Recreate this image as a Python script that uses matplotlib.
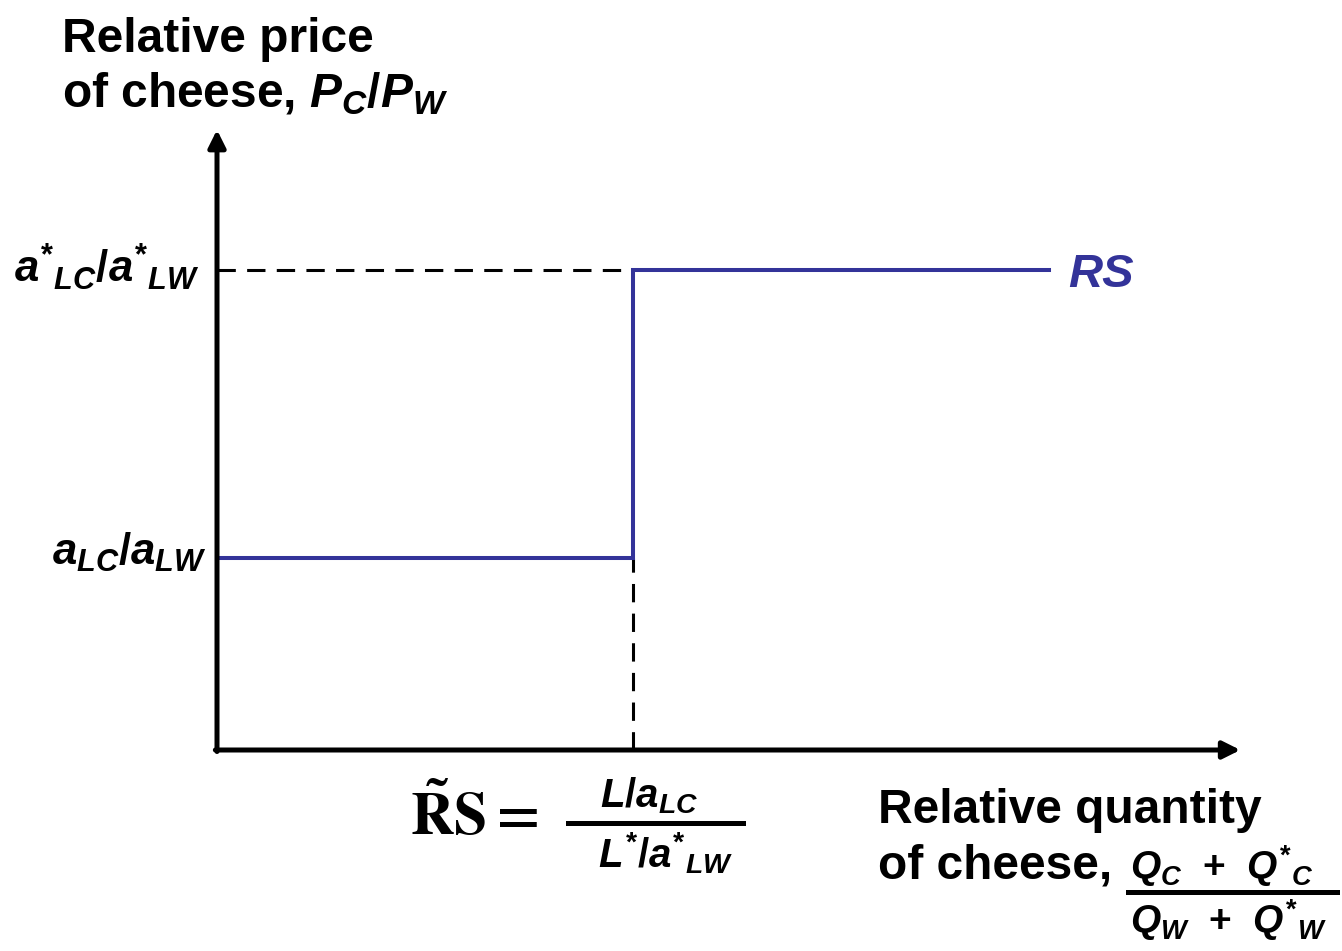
"""Relative supply curve (Ricardian model, two countries)."""

import matplotlib
matplotlib.use("Agg")
import matplotlib.pyplot as plt
import matplotlib.transforms as mtransforms
from matplotlib.lines import Line2D

plt.rcParams["font.family"] = ["Liberation Sans", "DejaVu Sans"]
plt.rcParams["font.weight"] = "bold"
plt.rcParams["mathtext.fontset"] = "custom"
plt.rcParams["mathtext.it"] = "Liberation Sans:italic:bold"
plt.rcParams["mathtext.rm"] = "Liberation Sans:bold"
plt.rcParams["mathtext.bf"] = "Liberation Sans:bold"

# step-shaped relative supply: x in units of the kink, y in units of a_LC/a_LW
rs_x = [0, 1, 1, 2]
rs_y = [1, 1, 2.5, 2.5]
kink_x = 1
low_price = 1
high_price = 2.5
x_axis_end = 2.46
y_axis_end = 3.23

STAR = r"^{\text{*}}"
SL = r"\text{/}"
ytick_vals = [high_price, low_price]
ytick_labels = [rf"$a{STAR}{{}}_{{LC}}{SL}a{STAR}{{}}_{{LW}}$",
                rf"$a_{{LC}}{SL}a_{{LW}}$"]

BLUE = "#333399"
W, H = 1342, 951
X0, SX = 217, 416
Y0, SY = 750, 192
FS = 34.5

fig = plt.figure(figsize=(W / 100, H / 100), dpi=100)
ax = fig.add_axes([0, 0, 1, 1])
ax.set_xlim(-X0 / SX, (W - X0) / SX)
ax.set_ylim((Y0 - H) / SY, Y0 / SY)
ax.axis("off")

# pixel coordinates measured from top-left, for text placement
px = mtransforms.Affine2D().scale(1 / W, -1 / H).translate(0, 1) + fig.transFigure

# axes with arrows
arrow = dict(arrowstyle="-|>", lw=3.6, color="black", mutation_scale=26,
             shrinkA=0, shrinkB=0)
ax.annotate("", xy=(0, y_axis_end), xytext=(0, -0.008), arrowprops=arrow)
ax.annotate("", xy=(x_axis_end, 0), xytext=(-0.004, 0), arrowprops=arrow)

# dashed guides
ax.plot([0, kink_x], [high_price, high_price], color="black", lw=2.2,
        ls=(0, (6, 3.7)))
ax.plot([kink_x, kink_x], [0, low_price], color="black", lw=2.2,
        ls=(0, (6, 3.7)))

# RS curve
ax.plot(rs_x, rs_y, color=BLUE, lw=2.9, solid_joinstyle="miter")
ax.text(1068, 287, "RS", transform=px, fontsize=34, style="italic",
        color=BLUE, va="baseline")

# y labels
for val, lab, x_right, base in zip(ytick_vals, ytick_labels, [200, 207], [282, 565]):
    fig.text(x_right, base, lab, transform=px, fontsize=31.5, ha="right",
             va="baseline")

# axis titles
fig.text(62, 52, "Relative price", transform=px, fontsize=FS, va="baseline")
fig.text(62, 107, rf"of cheese, $P_C{SL}P_W$", transform=px, fontsize=FS,
         va="baseline")
fig.text(878, 823, "Relative quantity", transform=px, fontsize=FS,
         va="baseline")
fig.text(878, 878, "of cheese,", transform=px, fontsize=FS, va="baseline")
fig.text(1130, 879, rf"$Q_C$  +  $Q{STAR}{{}}_C$", transform=px, fontsize=28,
         va="baseline")
fig.text(1130, 933, rf"$Q_W$  +  $Q{STAR}{{}}_W$", transform=px, fontsize=28,
         va="baseline")
fig.add_artist(Line2D([1128, 1337], [892, 892], transform=px, color="black",
                      lw=3.6))

# RS tilde formula
fig.text(410, 835, r"$\tilde{\mathrm{R}}\mathrm{S} =$", transform=px,
         fontsize=43, va="baseline", math_fontfamily="stix")
fig.text(649, 807, rf"$L{SL}a_{{LC}}$", transform=px, fontsize=29,
         ha="center", va="baseline")
fig.text(665, 867, rf"$L{STAR}{SL}a{STAR}{{}}_{{LW}}$", transform=px,
         fontsize=29, ha="center", va="baseline")
fig.add_artist(Line2D([568, 743], [823, 823], transform=px, color="black",
                      lw=3.6))

fig.savefig("out.png", dpi=100)
